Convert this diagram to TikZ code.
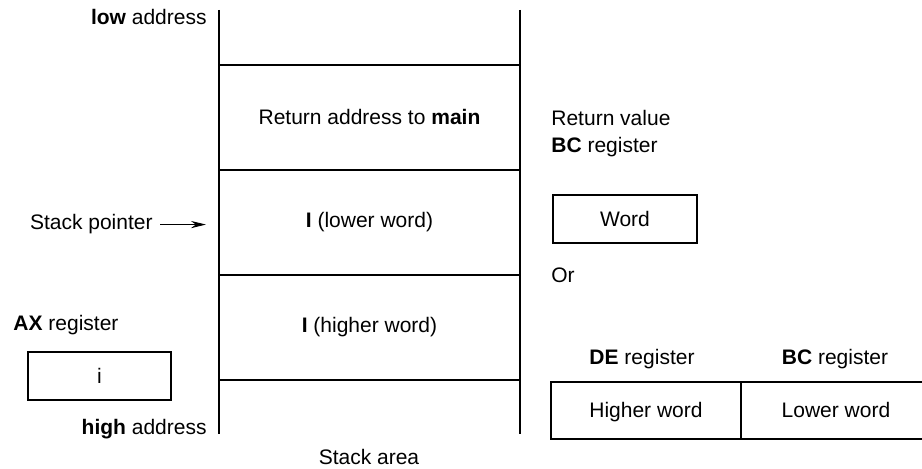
\documentclass[tikz,border=0pt]{standalone}
\usepackage{fontspec}
\setmainfont{Liberation Sans}
\usetikzlibrary{positioning, arrows.meta}

\begin{document}
\begin{tikzpicture}[
    x=0.5pt, y=-0.5pt,
    font=\fontsize{10.5}{13}\selectfont,
    >={Stealth[length=7.5pt, width=3.6pt]},
    cellstyle/.style={minimum width=150.5pt, minimum height=52.5pt, inner sep=0pt, outer sep=0pt},
    regstyle/.style={draw, line width=0.9pt, minimum width=71.5pt, minimum height=24pt,
        inner sep=0pt, outer sep=0pt},
    pairstyle/.style={draw, line width=0.9pt, minimum width=95pt, minimum height=28.5pt,
        text height=9pt, text depth=1.5pt, inner sep=0pt, outer sep=0pt},
    labelstyle/.style={inner sep=0pt},
    wall/.style={line width=1pt},
    pointer/.style={->, line width=0.5pt}
  ]
    \useasboundingbox (0,0) rectangle (922,469);
    % stack cells, top to bottom
    \node[cellstyle, minimum height=27.5pt] (topcell) at (369.5,37.5) {};
    \node[cellstyle, below=0pt of topcell] (retcell) {Return address to \textbf{main}};
    \node[cellstyle, below=0pt of retcell] (locell) {\textbf{I} (lower word)};
    \node[cellstyle, below=0pt of locell] (hicell) {\textbf{I} (higher word)};
    \node[cellstyle, minimum height=27pt, below=0pt of hicell] (botcell) {};
    \draw[wall] (topcell.north west) -- (botcell.south west);
    \draw[wall] (topcell.north east) -- (botcell.south east);
    \foreach \c in {retcell, locell, hicell}
        \draw[wall] (\c.north west) -- (\c.north east);
    \draw[wall] (hicell.south west) -- (hicell.south east);
    \node[labelstyle, anchor=base east] (lowaddr) at (207,25) {\textbf{low} address};
    \node[labelstyle, anchor=base east] (highaddr) at (207,435) {\textbf{high} address};
    \node[labelstyle, anchor=base] (stackarea) at (369,465) {Stack area};
    % stack pointer
    \node[labelstyle, anchor=base east] (sp) at (153,230) {Stack pointer};
    \draw[pointer, shorten <=3.5pt, shorten >=6.5pt] (sp.east) -- (sp.east -| locell.west);
    % AX register
    \node[labelstyle, anchor=base west] (axlabel) at (13,331) {\textbf{AX} register};
    \node[regstyle] (axbox) at (99.5,376) {i};
    % return value
    \node[labelstyle, anchor=base west] (retval) at (551,126) {Return value};
    \node[labelstyle, anchor=base west] (bclabel) at (551,153) {\textbf{BC} register};
    \node[regstyle, minimum width=72pt] (wordbox) at (625,219) {Word};
    \node[labelstyle, anchor=base west] (orlabel) at (551,283) {Or};
    \node[labelstyle, anchor=base] (delabel) at (642,365) {\textbf{DE} register};
    \node[labelstyle, anchor=base] (bclabel2) at (835,365) {\textbf{BC} register};
    \node[pairstyle] (hiword) at (646,410.5) {Higher word};
    \node[pairstyle, right=0pt of hiword] (loword) {Lower word};
\end{tikzpicture}
\end{document}
